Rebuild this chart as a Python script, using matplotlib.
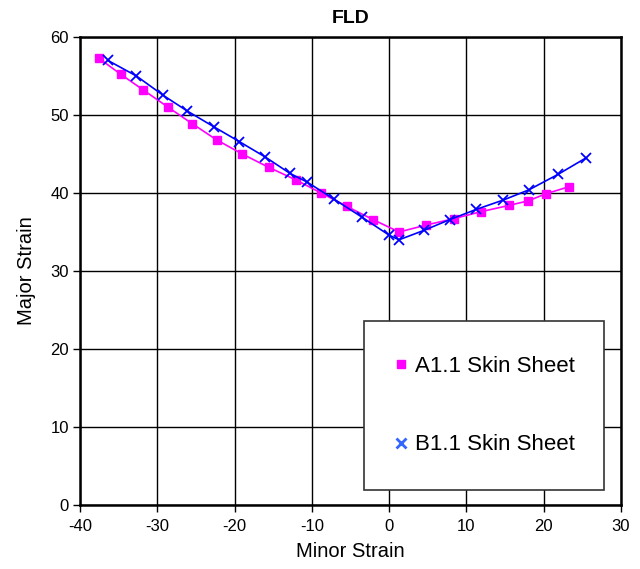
import matplotlib
matplotlib.use("Agg")
import matplotlib.pyplot as plt

plt.rcParams['font.family'] = ['Liberation Sans', 'DejaVu Sans']
plt.rcParams['axes.unicode_minus'] = False

# A1.1 Skin Sheet (minor, major)
a_minor = [-37.6, -34.7, -31.8, -28.6, -25.5, -22.3, -19.0, -15.6, -12.1, -8.8,
           -5.5, -2.1, 1.3, 4.85, 8.35, 11.9, 15.5, 18.05, 20.3, 23.3]
a_major = [57.3, 55.2, 53.2, 51.0, 48.9, 46.8, 45.0, 43.3, 41.7, 40.0,
           38.3, 36.6, 35.0, 35.9, 36.7, 37.6, 38.4, 39.0, 39.9, 40.8]

# B1.1 Skin Sheet (minor, major)
b_minor = [-36.4, -32.7, -29.2, -26.1, -22.7, -19.4, -16.0, -12.8, -10.6, -7.1,
           -3.5, 0.0, 1.3, 4.5, 7.9, 11.3, 14.8, 18.1, 21.9, 25.5]
b_major = [57.0, 55.0, 52.5, 50.5, 48.5, 46.6, 44.6, 42.5, 41.4, 39.2,
           36.9, 34.6, 34.0, 35.2, 36.6, 37.9, 39.1, 40.4, 42.4, 44.5]

x_ticks = [-40, -30, -20, -10, 0, 10, 20, 30]
y_ticks = [0, 10, 20, 30, 40, 50, 60]

fig = plt.figure(figsize=(6.4, 5.69), dpi=100)
ax = fig.add_axes([0.125, 0.1125, 0.845, 0.8225])

ax.plot(a_minor, a_major, color='#ff00ff', lw=1.2, marker='s', ms=5.5,
        label='A1.1 Skin Sheet')
ax.plot(b_minor, b_major, color='#0000ff', lw=1.2, marker='x', ms=6.5, mew=1.3,
        label='B1.1 Skin Sheet')

ax.set_xlim(-40, 30)
ax.set_ylim(0, 60)
ax.set_xticks(x_ticks)
ax.set_yticks(y_ticks)
ax.grid(True, color='black', lw=1)
ax.set_axisbelow(True)
for s in ax.spines.values():
    s.set_linewidth(1.8)
ax.tick_params(labelsize=12, length=5, width=1)
ax.tick_params(axis='x', pad=5)
ax.tick_params(axis='y', pad=3)

ax.set_title('FLD', fontsize=14, fontweight='bold', pad=10)
ax.set_xlabel('Minor Strain', fontsize=14.5, labelpad=6)
ax.set_ylabel('Major Strain', fontsize=14.5, labelpad=10)

# legend shows markers only, in a square box at lower right
handles = [
    plt.Line2D([], [], ls='none', marker='s', ms=6, color='#ff00ff'),
    plt.Line2D([], [], ls='none', marker='x', ms=7.5, mew=2, color='#3366ff'),
]
leg = ax.legend(handles, ['A1.1 Skin Sheet', 'B1.1 Skin Sheet'],
                loc='upper left', bbox_to_anchor=(0.525, 0.0404, 0.4436, 0.3526),
                mode='expand',
                fontsize=16, frameon=True, fancybox=False,
                borderpad=1.55, labelspacing=2.6, handlelength=0.2,
                handletextpad=0.55, borderaxespad=0)
leg.get_frame().set_edgecolor('#333333')
leg.get_frame().set_linewidth(1.2)
leg.get_frame().set_alpha(1)

plt.savefig('out.png', dpi=100)
